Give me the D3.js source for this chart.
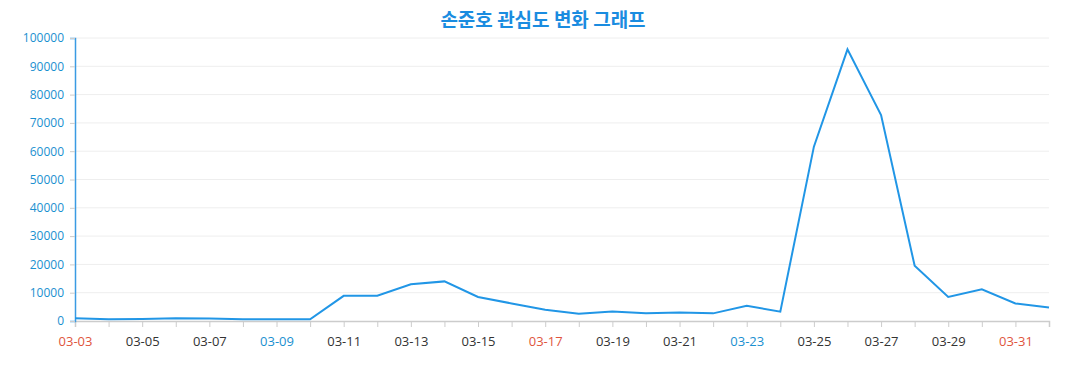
<!DOCTYPE html>
<html><head><meta charset="utf-8">
<script src="https://cdn.jsdelivr.net/npm/d3@7"></script>
<style>body{margin:0;background:#fff;}svg{display:block;}</style>
</head><body>
<svg id="c" width="1077" height="390"></svg>
<script>
const title = "손준호 관심도 변화 그래프";
const dates = ["03-03","03-04","03-05","03-06","03-07","03-08","03-09","03-10","03-11","03-12","03-13","03-14","03-15","03-16","03-17","03-18","03-19","03-20","03-21","03-22","03-23","03-24","03-25","03-26","03-27","03-28","03-29","03-30","03-31","04-01"];
const values = [1000,600,700,1000,900,600,600,600,8900,8900,13000,14000,8500,6200,4000,2600,3400,2700,3000,2700,5400,3300,61600,96000,72800,19500,8500,11200,6200,4800];
// day type: 0 weekday, 1 saturday, 2 sunday
const dayType = [2,0,0,0,0,0,1,2,0,0,0,0,0,1,2,0,0,0,0,0,1,2,0,0,0,0,0,1,2,0];
const yTicks = [0,10000,20000,30000,40000,50000,60000,70000,80000,90000,100000];

const svg = d3.select("#c");
const m = {l:75, r:28, t:38, b:69};
const W = 1077, H = 390;
const x = d3.scalePoint().domain(dates).range([m.l, W - m.r]);
const y = d3.scaleLinear().domain([0,100000]).range([H - m.b, m.t]);

svg.append("text").attr("x", 543).attr("y", 27).attr("text-anchor","middle")
  .attr("font-family","'Noto Sans CJK KR', sans-serif").attr("font-weight","bold")
  .attr("font-size",19).attr("fill","#1a8ce0").text(title);

// grid
svg.append("g").selectAll("line").data(yTicks.slice(1)).join("line")
  .attr("x1", m.l).attr("x2", W - m.r)
  .attr("y1", d=>y(d)).attr("y2", d=>y(d))
  .attr("stroke","#eeeeee").attr("stroke-width",1);

// x axis
const xa = svg.append("g").attr("transform",`translate(0,${y(0)})`)
  .call(d3.axisBottom(x).tickSize(6).tickPadding(10).tickFormat((d,i)=> i%2===0 && i<dates.length-1 ? d : ""));
xa.select(".domain").attr("stroke","#cccccc").attr("stroke-width",1.5);
xa.selectAll(".tick line").attr("stroke","#cccccc");
xa.selectAll(".tick text").attr("font-family","'Open Sans', sans-serif").attr("font-size",13)
  .attr("fill",(d,i)=> dayType[i]===2 ? "#e0553d" : dayType[i]===1 ? "#1a90d0" : "#333333");

// y axis
const ya = svg.append("g").attr("transform",`translate(${m.l},0)`)
  .call(d3.axisLeft(y).tickValues(yTicks).tickSize(5).tickPadding(6).tickFormat(d3.format("d")));
ya.select(".domain").attr("stroke","#3a9be3").attr("stroke-width",1.5);
ya.selectAll(".tick line").attr("stroke","#cccccc");
ya.selectAll(".tick text").attr("font-family","'Open Sans', sans-serif").attr("font-size",12).attr("fill","#1a90d0");

// line
svg.append("path").datum(values)
  .attr("fill","none").attr("stroke","#2196e6").attr("stroke-width",2)
  .attr("stroke-linejoin","miter")
  .attr("d", d3.line().x((d,i)=>x(dates[i])).y(d=>y(d)));
</script>
</body></html>
